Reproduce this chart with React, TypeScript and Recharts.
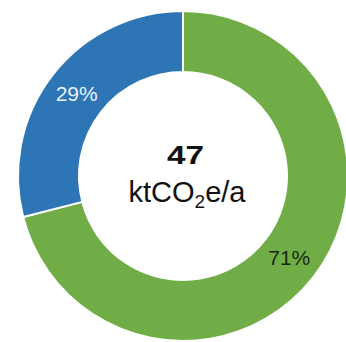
import React from 'react'
import { PieChart, Pie, Cell } from 'recharts'

const categories = ['Green share', 'Blue share']
const shares = [71, 29]
const colors = ['#70AD47', '#2E75B6']
const labelColors = ['#1c2a12', '#e9f0f9']
const totalValue = '47'
const unitMain = 'ktCO'
const unitSub = '2'
const unitTail = 'e/a'

const data = categories.map((name, i) => ({ name, value: shares[i] }))
const FONT = '"Liberation Sans", Arial, sans-serif'
const RAD = Math.PI / 180
const CX = 183
const CY = 176

const renderPct = (p: any) => {
  const r = (p.innerRadius + p.outerRadius) / 2
  const x = p.cx + r * Math.cos(-p.midAngle * RAD)
  const y = p.cy + r * Math.sin(-p.midAngle * RAD)
  return (
    <text x={x} y={y + 7} textAnchor="middle" fontFamily={FONT} fontSize={21} fill={labelColors[p.index]}>
      {Math.round(p.percent * 100)}%
    </text>
  )
}

export default function App() {
  return (
    <div style={{ position: 'absolute', left: 0, top: 0, width: 346, height: 342, background: '#fff' }}>
      <PieChart width={346} height={342} margin={{ top: 0, right: 0, bottom: 0, left: 0 }}>
        <Pie
          data={data}
          dataKey="value"
          cx={CX}
          cy={CY}
          innerRadius={104}
          outerRadius={165}
          startAngle={90}
          endAngle={-270}
          stroke="#fff"
          strokeWidth={2}
          label={renderPct}
          labelLine={false}
          isAnimationActive={false}
        >
          {data.map((d, i) => <Cell key={d.name} fill={colors[i]} />)}
        </Pie>
      </PieChart>
      <svg width={346} height={342} style={{ position: 'absolute', left: 0, top: 0, pointerEvents: 'none' }}>
        <g fontFamily={FONT} fill="#111">
          <text x={CX + 2.5} y={CY - 12} textAnchor="middle" fontSize={26} fontWeight="bold" textLength={37} lengthAdjust="spacingAndGlyphs">
            {totalValue}
          </text>
          <text x={CX + 4} y={CY + 26} textAnchor="middle" fontSize={29}>
            <tspan>{unitMain}</tspan>
            <tspan fontSize={19} dy={6}>{unitSub}</tspan>
            <tspan dy={-6}>{unitTail}</tspan>
          </text>
        </g>
      </svg>
    </div>
  )
}
